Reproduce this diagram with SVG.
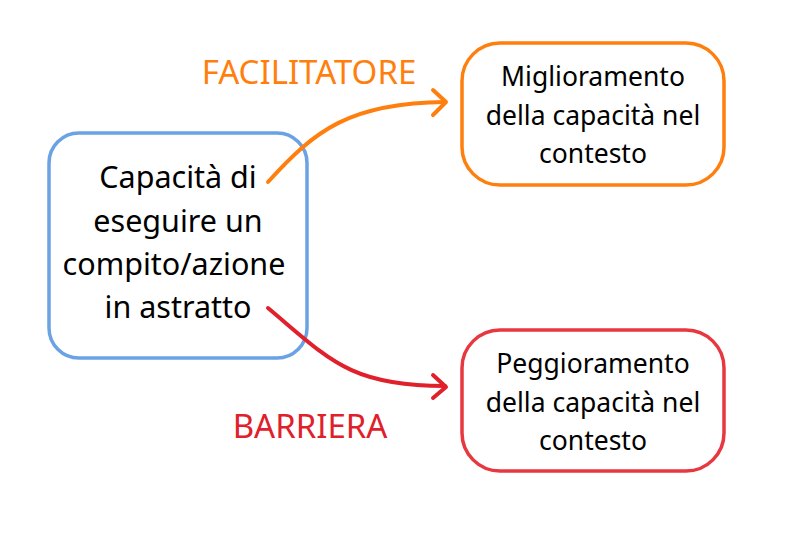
<svg xmlns="http://www.w3.org/2000/svg" width="800" height="536" viewBox="0 0 800 536">
<style>
text{font-family:"Noto Sans","DejaVu Sans",sans-serif;text-anchor:middle;fill:#000}
.big{font-size:30.5px}
.mid{font-size:26.5px}
.lab{font-size:33px}
.conn{fill:none;stroke-width:4;stroke-linecap:round;stroke-linejoin:round}
</style>
<rect width="800" height="536" fill="#fff"/>
<g id="source">
<rect x="49" y="133" width="258" height="225" rx="30" fill="#fff" stroke="#6aa2e4" stroke-width="3.5"/>
<text class="big" x="178" y="188">Capacità di</text>
<text class="big" x="178" y="232">eseguire un</text>
<text class="big" x="174" y="275">compito/azione</text>
<text class="big" x="178" y="318">in astratto</text>
</g>
<g id="improve">
<rect x="462" y="43" width="262" height="142" rx="38" fill="#fff" stroke="#ff7f0e" stroke-width="3.5"/>
<text class="mid" x="593" y="86">Miglioramento</text>
<text class="mid" x="593" y="125">della capacità nel</text>
<text class="mid" x="593" y="163">contesto</text>
</g>
<g id="worsen">
<rect x="462" y="330" width="262" height="141" rx="38" fill="#fff" stroke="#e8383f" stroke-width="3.5"/>
<text class="mid" x="593" y="373">Peggioramento</text>
<text class="mid" x="593" y="412">della capacità nel</text>
<text class="mid" x="593" y="450">contesto</text>
</g>
<g id="connectors">
<path class="conn" stroke="#ff7f0e" d="M268,182 C315,130 350,103 445,102"/>
<path class="conn" stroke="#ff7f0e" d="M433,90 L446,102 L433,115"/>
<text class="lab" x="309" y="84" style="fill:#ff7f0e">FACILITATORE</text>
<path class="conn" stroke="#e0202a" d="M268,308 C330,360 350,386 445,386"/>
<path class="conn" stroke="#e0202a" d="M433,375 L446,387 L433,398"/>
<text class="lab" x="310" y="438" style="fill:#e0202a">BARRIERA</text>
</g>
</svg>
